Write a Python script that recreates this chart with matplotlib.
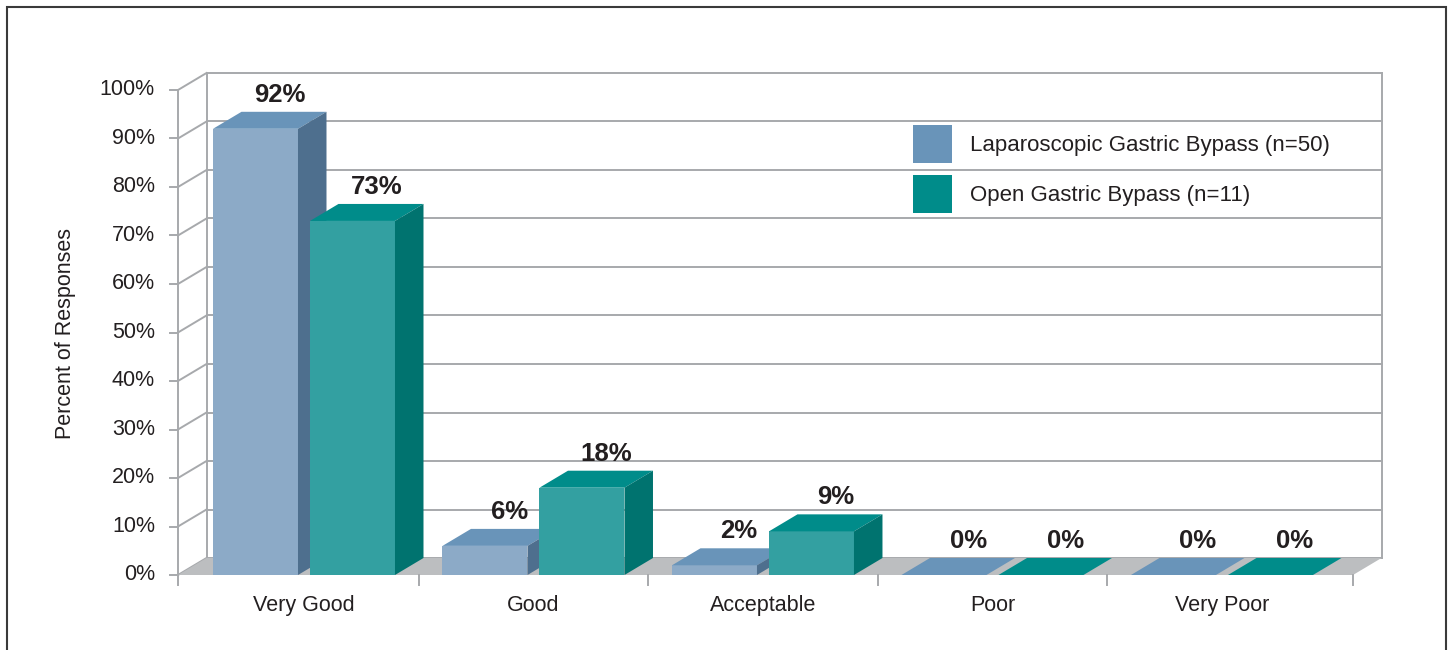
import matplotlib
matplotlib.use('Agg')
import matplotlib.pyplot as plt
from matplotlib.patches import Polygon, Rectangle
import numpy as np

# Data
categories = ['Very Good', 'Good', 'Acceptable', 'Poor', 'Very Poor']
laparoscopic = [92, 6, 2, 0, 0]
open_bypass = [73, 18, 9, 0, 0]
series_names = ['Laparoscopic Gastric Bypass (n=50)', 'Open Gastric Bypass (n=11)']
y_ticks = np.arange(0, 101, 10)

plt.rcParams['font.family'] = ['Liberation Sans', 'DejaVu Sans']
txt_col = '#231F20'
grid_col = '#A7A9AC'

# colours: front, top, side
lap_cols = ('#8CAAC7', '#6994B9', '#4E6F8E')
open_cols = ('#33A0A1', '#008C8A', '#00736F')

W, H = 1450, 650
fig = plt.figure(figsize=(W / 100, H / 100), dpi=100)
ax = fig.add_axes([178 / W, 1 - 575 / H, (1353 - 178) / W, (575 - 90) / H])
x0, x1 = -0.549, 4.571
ax.set_xlim(x0, x1)
ax.set_ylim(0, 100)
ax.axis('off')

# depth offset (pixels -> data units)
inv = ax.transData.inverted()
p0 = ax.transData.transform((0, 0))
dx, dy = inv.transform(p0 + np.array([28.5, 17]))
px = inv.transform(p0 + np.array([1, 1]))  # one pixel in data units
pxx, pxy = px[0], px[1]

# floor
ax.add_patch(Polygon([(x0, 0), (x1, 0), (x1 + dx, dy), (x0 + dx, dy)],
                     closed=True, fc='#BCBEC0', ec='none', clip_on=False, zorder=1))

# back wall grid, left wall diagonals
for t in y_ticks:
    ax.plot([x0 + dx, x1 + dx], [t + dy, t + dy], color=grid_col, lw=1.4, clip_on=False, zorder=0.5)
    ax.plot([x0, x0 + dx], [t, t + dy], color=grid_col, lw=1.4, clip_on=False, zorder=0.5)
    ax.plot([x0 - 8 * pxx, x0], [t, t], color=grid_col, lw=1.4, clip_on=False, zorder=0.5)
    ax.text(x0 - 23 * pxx, t, f'{t}%', ha='right', va='center', fontsize=15.5, color=txt_col)
ax.plot([x0 + dx, x0 + dx], [dy, 100 + dy], color=grid_col, lw=1.4, clip_on=False, zorder=0.5)
ax.plot([x1 + dx, x1 + dx], [dy, 100 + dy], color=grid_col, lw=1.4, clip_on=False, zorder=0.5)
ax.plot([x0, x0], [0, 100], color=grid_col, lw=1.4, clip_on=False, zorder=0.5)

# x ticks
for xt in [x0, 0.5, 1.5, 2.5, 3.5, x1]:
    ax.plot([xt, xt], [0, -10 * pxy], color=grid_col, lw=1.4, clip_on=False)

gap = 6 * pxx
bw = 85 * pxx


def bar3d(xl, v, cols):
    front, top, side = cols
    ax.add_patch(Rectangle((xl, 0), bw, v, fc=front, ec='none', zorder=3, clip_on=False))
    ax.add_patch(Polygon([(xl, v), (xl + bw, v), (xl + bw + dx, v + dy), (xl + dx, v + dy)],
                         closed=True, fc=top, ec='none', zorder=3, clip_on=False))
    ax.add_patch(Polygon([(xl + bw, 0), (xl + bw + dx, dy), (xl + bw + dx, v + dy), (xl + bw, v)],
                         closed=True, fc=side, ec='none', zorder=3, clip_on=False))
    ax.text(xl + bw / 2 + dx * 0.85, v + dy + 10 * pxy, f'{v}%', ha='center', va='baseline',
            fontsize=18.5, fontweight='bold', color=txt_col, zorder=4)


for i, cat in enumerate(categories):
    bar3d(i - gap - bw, laparoscopic[i], lap_cols)
    bar3d(i + gap, open_bypass[i], open_cols)
    ax.text(i, -30 * pxy, cat, ha='center', va='center', fontsize=15.5, color=txt_col)

# y label
fig.text(65 / W, 1 - 333 / H, 'Percent of Responses', rotation=90, ha='center', va='center',
         fontsize=15.5, color=txt_col)

# legend
for k, (name, col) in enumerate(zip(series_names, [lap_cols[1], open_cols[1]])):
    ytop = 125 + 50 * k
    fig.add_artist(Rectangle((913 / W, 1 - (ytop + 38) / H), 39 / W, 38 / H, fc=col, ec='none',
                             transform=fig.transFigure))
    fig.text(970 / W, 1 - (ytop + 20) / H, name, ha='left', va='center', fontsize=16, color=txt_col)

# outer frame
fig.add_artist(Rectangle((7 / W, -0.1), (1446 - 7) / W, 1.1 - 7 / H, fill=False, ec='#3A3A3A',
                         lw=1.5, transform=fig.transFigure))

fig.savefig('out.png', dpi=100)
